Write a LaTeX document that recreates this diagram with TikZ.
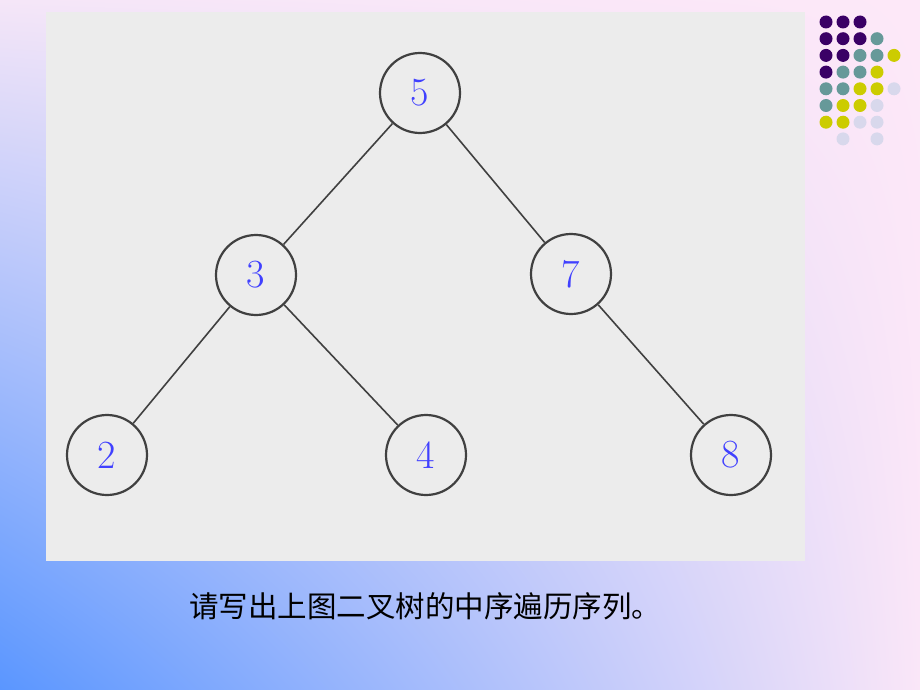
\documentclass[tikz,border=0pt]{standalone}
\usepackage{fontspec}
\usetikzlibrary{shadings}
\newfontfamily\cjk{Noto Sans CJK SC}
\definecolor{cp}{HTML}{3A0066}\definecolor{ct}{HTML}{669999}
\definecolor{cy}{HTML}{CCCC00}\definecolor{cl}{HTML}{D8D8EC}
\definecolor{bll}{RGB}{90,150,255}\definecolor{bul}{RGB}{245,230,248}
\definecolor{bur}{RGB}{253,232,248}\definecolor{blr}{RGB}{250,230,248}
\begin{document}
\begin{tikzpicture}[x=1pt,y=-1pt,
  tn/.style={circle,draw=black!75,line width=2.2pt,fill=none,minimum size=80pt,inner sep=0pt,text=blue!75!white,font=\fontsize{40}{40}\selectfont},
  ed/.style={draw=black!75,line width=1.6pt},
  dot/.style={circle,inner sep=0pt,minimum size=13pt}]
\useasboundingbox (0,0) rectangle (920,690);
\shade[lower left=bll,upper left=bul,upper right=bur,lower right=blr] (0,0) rectangle (920,690);
\fill[gray!15] (46,12) rectangle (805,561);
\node[tn] (n5) at (420,93) {5};
\node[tn] (n3) at (256,275) {3};
\node[tn] (n7) at (571,274) {7};
\node[tn] (n2) at (107,455) {2};
\node[tn] (n4) at (426,455) {4};
\node[tn] (n8) at (731,455) {8};
\draw[ed] (n5)--(n3); \draw[ed] (n5)--(n7);
\draw[ed] (n3)--(n2); \draw[ed] (n3)--(n4);
\draw[ed] (n7)--(n8);
\node[font=\cjk\fontsize{29.5}{29.5}\selectfont] (cap) at (425,606) {请写出上图二叉树的中序遍历序列。};
\foreach \r/\row in {0/{cp,cp,cp,,},1/{cp,cp,cp,ct,},2/{cp,cp,ct,ct,cy},3/{cp,ct,ct,cy,},4/{ct,ct,cy,cy,cl},5/{ct,cy,cy,cl,},6/{cy,cy,cl,cl,},7/{,cl,,cl,}}{
  \foreach \c [count=\i from 0] in \row {
    \ifx\c\empty\else \node[dot,fill=\c] (d\r\i) at (826+17*\i,22+16.7*\r) {};\fi
  }}
\end{tikzpicture}
\end{document}
